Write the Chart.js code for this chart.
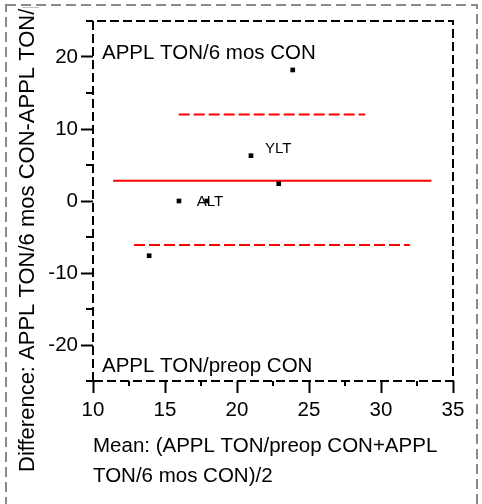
<!DOCTYPE html>
<html>
<head>
<meta charset="utf-8">
<script src="https://cdn.jsdelivr.net/npm/chart.js@4"></script>
<style>
html,body{margin:0;padding:0;background:#fff;}
#wrap{width:482px;height:504px;}
</style>
</head>
<body>
<div id="wrap"><canvas id="c" width="482" height="504"></canvas></div>
<script>
// ---- data ----
const meanVals = [23.87, 20.97, 22.9, 15.97, 17.9, 13.9];
const diffVals = [18.2, 6.3, 2.4, 0.0, 0.0, -7.6];
const pointLabels = ['', 'YLT', '', '', 'ALT', ''];
const meanLineX = [11.4, 33.5];
const meanLineY = 2.8;
const upperLineX = [15.95, 28.9];
const upperLineY = 12.0;
const lowerLineX = [12.85, 32.0];
const lowerLineY = -6.1;
const xTicks = [10, 15, 20, 25, 30, 35];
const xMinorTicks = [12.5, 17.5, 22.5, 27.5, 32.5];
const yTicks = [-20, -10, 0, 10, 20];
const yMinorTicks = [-25, -15, -5, 5, 15, 25];
const yTitle = 'Difference: APPL TON/6 mos CON-APPL TON/preop CON';
const xTitle = ['Mean: (APPL TON/preop CON+APPL', 'TON/6 mos CON)/2'];
const topNote = 'APPL TON/6 mos CON';
const bottomNote = 'APPL TON/preop CON';

const FONT = "'Liberation Sans', Arial, sans-serif";

const points = meanVals.map((m, i) => ({x: m, y: diffVals[i]}));
const seg = (xs, yv) => xs.map(xv => ({x: xv, y: yv}));

const deco = {
  id: 'deco',
  afterDraw(chart) {
    const {ctx, chartArea: a, scales: {x, y}} = chart;
    ctx.save();
    // outer gray dashed frame
    ctx.strokeStyle = '#8a8a8a';
    ctx.lineWidth = 2;
    ctx.setLineDash([10, 5]);
    ctx.strokeRect(6, 5, 471, 530);
    // plot dashed frame
    ctx.strokeStyle = '#000';
    ctx.lineWidth = 2;
    ctx.setLineDash([9, 4]);
    ctx.beginPath();
    ctx.moveTo(a.left, a.bottom); ctx.lineTo(a.left, a.top);
    ctx.lineTo(a.right, a.top); ctx.lineTo(a.right, a.bottom);
    ctx.lineTo(a.left, a.bottom);
    ctx.stroke();
    // minor ticks
    ctx.setLineDash([]);
    ctx.lineWidth = 2;
    ctx.beginPath();
    yMinorTicks.forEach(v => {
      const py = Math.round(y.getPixelForValue(v));
      ctx.moveTo(a.left - 7, py); ctx.lineTo(a.left, py);
    });
    xMinorTicks.forEach(v => {
      const px = Math.round(x.getPixelForValue(v));
      ctx.moveTo(px, a.bottom); ctx.lineTo(px, a.bottom + 5);
    });
    ctx.stroke();
    // corner notes
    ctx.fillStyle = '#000';
    ctx.font = '20.5px ' + FONT;
    ctx.textBaseline = 'alphabetic';
    ctx.textAlign = 'left';
    ctx.fillText(topNote, a.left + 9, a.top + 38);
    ctx.fillText(bottomNote, a.left + 9, a.bottom - 9);
    // point labels
    ctx.font = '15px ' + FONT;
    const offs = {YLT: [14, -3], ALT: [-10, 5]};
    pointLabels.forEach((t, i) => {
      if (!t) return;
      const px = x.getPixelForValue(meanVals[i]);
      const py = y.getPixelForValue(diffVals[i]);
      const o = offs[t] || [8, 0];
      ctx.fillText(t, px + o[0], py + o[1]);
    });
    // y title (rotated, clipped)
    ctx.beginPath();
    ctx.rect(8, 7, 470, 500);
    ctx.clip();
    ctx.translate(34, 472);
    ctx.rotate(-Math.PI / 2);
    ctx.font = '22px ' + FONT;
    ctx.fillText(yTitle, 0, 0);
    ctx.restore();
  }
};

new Chart(document.getElementById('c'), {
  type: 'scatter',
  data: {
    datasets: [
      {
        data: points,
        pointStyle: 'rect',
        pointRadius: 3.3,
        pointBorderWidth: 0,
        backgroundColor: '#000',
        borderColor: '#000',
        showLine: false,
        order: 0
      },
      {
        data: seg(meanLineX, meanLineY),
        showLine: true, borderColor: '#ff0000', borderWidth: 2,
        pointRadius: 0, fill: false, order: 1
      },
      {
        data: seg(upperLineX, upperLineY),
        showLine: true, borderColor: '#ff0000', borderWidth: 2,
        borderDash: [11, 4], pointRadius: 0, fill: false, order: 1
      },
      {
        data: seg(lowerLineX, lowerLineY),
        showLine: true, borderColor: '#ff0000', borderWidth: 2,
        borderDash: [11, 4], pointRadius: 0, fill: false, order: 1
      }
    ]
  },
  options: {
    responsive: false,
    animation: false,
    devicePixelRatio: 1,
    layout: {padding: {left: 0, right: 29, top: 21, bottom: 0}},
    plugins: {legend: {display: false}, tooltip: {enabled: false}},
    scales: {
      x: {
        type: 'linear',
        min: 10, max: 35,
        afterFit: s => { s.height = 123; },
        afterBuildTicks: s => { s.ticks = xTicks.map(v => ({value: v})); },
        grid: {drawOnChartArea: false, drawTicks: true, tickLength: 12, tickWidth: 2, tickColor: '#000'},
        border: {display: false},
        ticks: {color: '#000', padding: 5, font: {family: FONT, size: 20.5}, maxRotation: 0, autoSkip: false},
        title: {
          display: true, text: xTitle, align: 'start', color: '#000',
          font: {family: FONT, size: 20.5, lineHeight: 1.46},
          padding: {top: 0, bottom: 13}
        }
      },
      y: {
        type: 'linear',
        min: -25, max: 25,
        afterFit: s => { s.width = 93; },
        afterBuildTicks: s => { s.ticks = yTicks.map(v => ({value: v})); },
        grid: {drawOnChartArea: false, drawTicks: true, tickLength: 12, tickWidth: 2, tickColor: '#000'},
        border: {display: false},
        ticks: {color: '#000', padding: 3, font: {family: FONT, size: 20.5}, autoSkip: false}
      }
    }
  },
  plugins: [deco]
});
</script>
</body>
</html>
